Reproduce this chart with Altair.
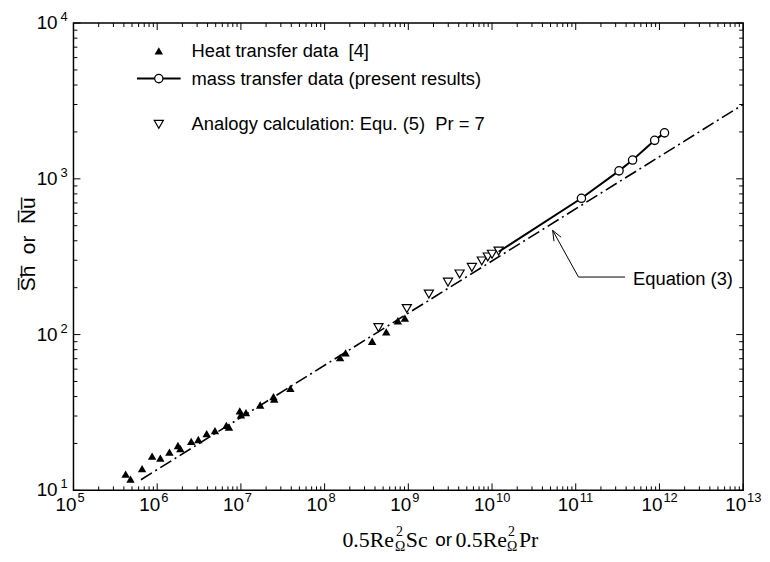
import math
import altair as alt
import pandas as pd

# ---------------- data ----------------
heat_x = [4.2e5, 4.8e5, 6.6e5, 8.7e5, 1.09e6, 1.4e6, 1.77e6, 1.89e6, 2.55e6, 3.1e6,
          3.9e6, 4.9e6, 6.7e6, 7.2e6, 9.7e6, 1.0e7, 1.15e7, 1.7e7, 2.45e7, 2.5e7,
          3.9e7, 1.53e8, 1.78e8, 3.7e8, 5.45e8, 7.5e8, 9.1e8]
heat_y = [12.7, 11.8, 13.8, 16.6, 16.1, 17.6, 19.4, 18.5, 20.6, 21.2,
          23.1, 24.2, 26.1, 25.5, 32.4, 30.5, 31.5, 35.3, 39.9, 38.5,
          45.1, 71.1, 76.4, 90.6, 104, 122.7, 127.6]

mass_x = [1.17e11, 3.29e11, 4.78e11, 8.77e11, 1.15e12]
mass_y = [750, 1125, 1320, 1766, 1973]
mass_line_start_x = [1.2e10]
mass_line_start_y = [340]

analogy_x = [4.4e8, 9.6e8, 1.76e9, 2.98e9, 4.1e9, 5.75e9, 7.55e9, 8.9e9, 1.0e10, 1.2e10]
analogy_y = [111, 147, 182, 217, 245, 270, 297, 315, 328, 344]

eq3_x = [6.4e5, 1e13]
eq3_y = [11.7, 3000]

x_major = [10 ** k for k in range(5, 14)]
x_exp = [str(k) for k in range(5, 14)]
x_minor = [m * 10 ** k for k in range(5, 13) for m in range(2, 10)]
y_major = [10 ** k for k in range(1, 5)]
y_exp = [str(k) for k in range(1, 5)]
y_minor = [m * 10 ** k for k in range(1, 4) for m in range(2, 10)]

legend_labels = ["Heat transfer data\u00a0\u00a0[4]",
                 "mass transfer data (present results)",
                 "Analogy calculation: Equ. (5)\u00a0\u00a0Pr = 7"]
annot_label = "Equation (3)"
y_title = "S\u0305h\u0305\u00a0\u00a0or\u00a0\u00a0N\u0305u\u0305"

# ---------------- layout / style ----------------
W, H = 675, 471
SANS = "Liberation Sans"
SERIF = "Liberation Serif"
XS = alt.Scale(type="log", domain=[1e5, 1e13])
YS = alt.Scale(type="log", domain=[10, 1e4])
ONE = pd.DataFrame({"a": [0]})


def X(field="x"):
    return alt.X(f"{field}:Q", scale=XS, axis=None)


def Y(field="y"):
    return alt.Y(f"{field}:Q", scale=YS, axis=None)


def txt(text, x, y, size=18.5, font=SANS, align="left", dy=0, angle=0):
    kw = dict(align=align, baseline="middle", font=font, fontSize=size, color="black", dy=dy)
    if angle:
        kw["angle"] = angle
    return alt.Chart(ONE).mark_text(**kw).encode(
        x=alt.value(x), y=alt.value(y), text=alt.value(text))


def seg(x0, y0, x1, y1, w=1.0):
    return alt.Chart(ONE).mark_rule(color="black", strokeWidth=w).encode(
        x=alt.value(x0), y=alt.value(y0), x2=alt.value(x1), y2=alt.value(y1))


layers = []

# equation (3) dash-dot line
layers.append(alt.Chart(pd.DataFrame({"x": eq3_x, "y": eq3_y})).mark_line(
    color="black", strokeWidth=1.6, strokeDash=[13, 4, 2, 4]).encode(x=X(), y=Y()))

# heat transfer data
layers.append(alt.Chart(pd.DataFrame({"x": heat_x, "y": heat_y})).mark_point(
    shape="triangle-up", filled=True, color="black", size=72, opacity=1).encode(x=X(), y=Y()))

# analogy calculation
layers.append(alt.Chart(pd.DataFrame({"x": analogy_x, "y": analogy_y})).mark_point(
    shape="triangle-down", filled=True, fill="white", stroke="black", strokeWidth=1.2,
    size=85, opacity=1).encode(x=X(), y=Y()))

# mass transfer line + circles
layers.append(alt.Chart(pd.DataFrame({"x": mass_line_start_x + mass_x,
                                      "y": mass_line_start_y + mass_y})).mark_line(
    color="black", strokeWidth=2).encode(x=X(), y=Y()))
layers.append(alt.Chart(pd.DataFrame({"x": mass_x, "y": mass_y})).mark_point(
    shape="circle", filled=True, fill="white", stroke="black", strokeWidth=1.3,
    size=70, opacity=1).encode(x=X(), y=Y()))

# ticks (inward, all four sides)
for vals, ln in ((x_major, 7), (x_minor, 4)):
    d = pd.DataFrame({"x": vals})
    layers.append(alt.Chart(d).mark_rule(color="black", strokeWidth=1).encode(
        x=X(), y=alt.value(H), y2=alt.value(H - ln)))
    layers.append(alt.Chart(d).mark_rule(color="black", strokeWidth=1).encode(
        x=X(), y=alt.value(0), y2=alt.value(ln)))
for vals, ln in ((y_major, 7), (y_minor, 4)):
    d = pd.DataFrame({"y": vals})
    layers.append(alt.Chart(d).mark_rule(color="black", strokeWidth=1).encode(
        y=Y(), x=alt.value(0), x2=alt.value(ln)))
    layers.append(alt.Chart(d).mark_rule(color="black", strokeWidth=1).encode(
        y=Y(), x=alt.value(W), x2=alt.value(W - ln)))

# tick labels 10^n
xl = pd.DataFrame({"x": x_major, "e": x_exp})
layers.append(alt.Chart(xl).mark_text(align="right", baseline="middle", font=SANS,
                                      fontSize=19, dx=3, color="black").encode(
    x=X(), y=alt.value(H + 15), text=alt.value("10")))
layers.append(alt.Chart(xl).mark_text(align="left", baseline="middle", font=SANS,
                                      fontSize=13, dx=4, dy=-7, color="black").encode(
    x=X(), y=alt.value(H + 15), text="e:N"))
yl = pd.DataFrame({"y": y_major, "e": y_exp})
layers.append(alt.Chart(yl).mark_text(align="right", baseline="middle", font=SANS,
                                      fontSize=19, color="black").encode(
    y=Y(), x=alt.value(-16), text=alt.value("10")))
layers.append(alt.Chart(yl).mark_text(align="left", baseline="middle", font=SANS,
                                      fontSize=13, dy=-6, color="black").encode(
    y=Y(), x=alt.value(-13), text="e:N"))

# axis titles
layers.append(txt(y_title, -45, 223, size=21, align="center", angle=270))
Xo, Yt = 373, H + 50
layers += [
    txt("or", Xo, Yt, size=19, align="center"),
    txt("0.5Re", Xo + 12, Yt, size=22, font=SERIF),
    txt("2", Xo + 65, Yt, size=14, font=SERIF, dy=-8),
    txt("\u03a9", Xo + 64, Yt, size=14, font=SERIF, dy=7),
    txt("Pr", Xo + 76, Yt, size=22, font=SERIF),
    txt("Sc", Xo - 16, Yt, size=22, font=SERIF, align="right"),
    txt("2", Xo - 48, Yt, size=14, font=SERIF, dy=-8),
    txt("\u03a9", Xo - 49, Yt, size=14, font=SERIF, dy=7),
    txt("0.5Re", Xo - 50, Yt, size=22, font=SERIF, align="right"),
]

# legend
layers.append(alt.Chart(ONE).mark_point(shape="triangle-up", filled=True, color="black",
                                        size=72, opacity=1).encode(
    x=alt.value(86), y=alt.value(28)))
layers.append(seg(64, 56, 108, 56, w=2))
layers.append(alt.Chart(ONE).mark_point(shape="circle", filled=True, fill="white",
                                        stroke="black", strokeWidth=1.3, size=70,
                                        opacity=1).encode(
    x=alt.value(86), y=alt.value(56)))
layers.append(alt.Chart(ONE).mark_point(shape="triangle-down", filled=True, fill="white",
                                        stroke="black", strokeWidth=1.2, size=85,
                                        opacity=1).encode(
    x=alt.value(86), y=alt.value(102)))
layers.append(txt(legend_labels[0], 119, 28))
layers.append(txt(legend_labels[1], 119, 56))
layers.append(txt(legend_labels[2], 119, 102))

# Equation (3) annotation with arrow
tip = (483, 209)
bend = (509, 256)
end = (556, 256)
layers.append(seg(end[0], end[1], bend[0], bend[1]))
layers.append(seg(bend[0], bend[1], tip[0], tip[1]))
dx, dy = bend[0] - tip[0], bend[1] - tip[1]
L = math.hypot(dx, dy)
ux, uy = dx / L, dy / L
for a in (math.radians(22), -math.radians(22)):
    vx = ux * math.cos(a) - uy * math.sin(a)
    vy = ux * math.sin(a) + uy * math.cos(a)
    layers.append(seg(tip[0], tip[1], tip[0] + 11 * vx, tip[1] + 11 * vy))
layers.append(txt(annot_label, 564, 258))

chart = alt.layer(*layers).properties(
    width=W, height=H,
    autosize=alt.AutoSizeParams(type="none"),
    padding={"left": 66, "top": 13, "right": 19, "bottom": 62},
).configure_view(stroke="black", strokeWidth=1.5)

chart.save("out.html", embed_options={"renderer": "svg", "actions": False})
